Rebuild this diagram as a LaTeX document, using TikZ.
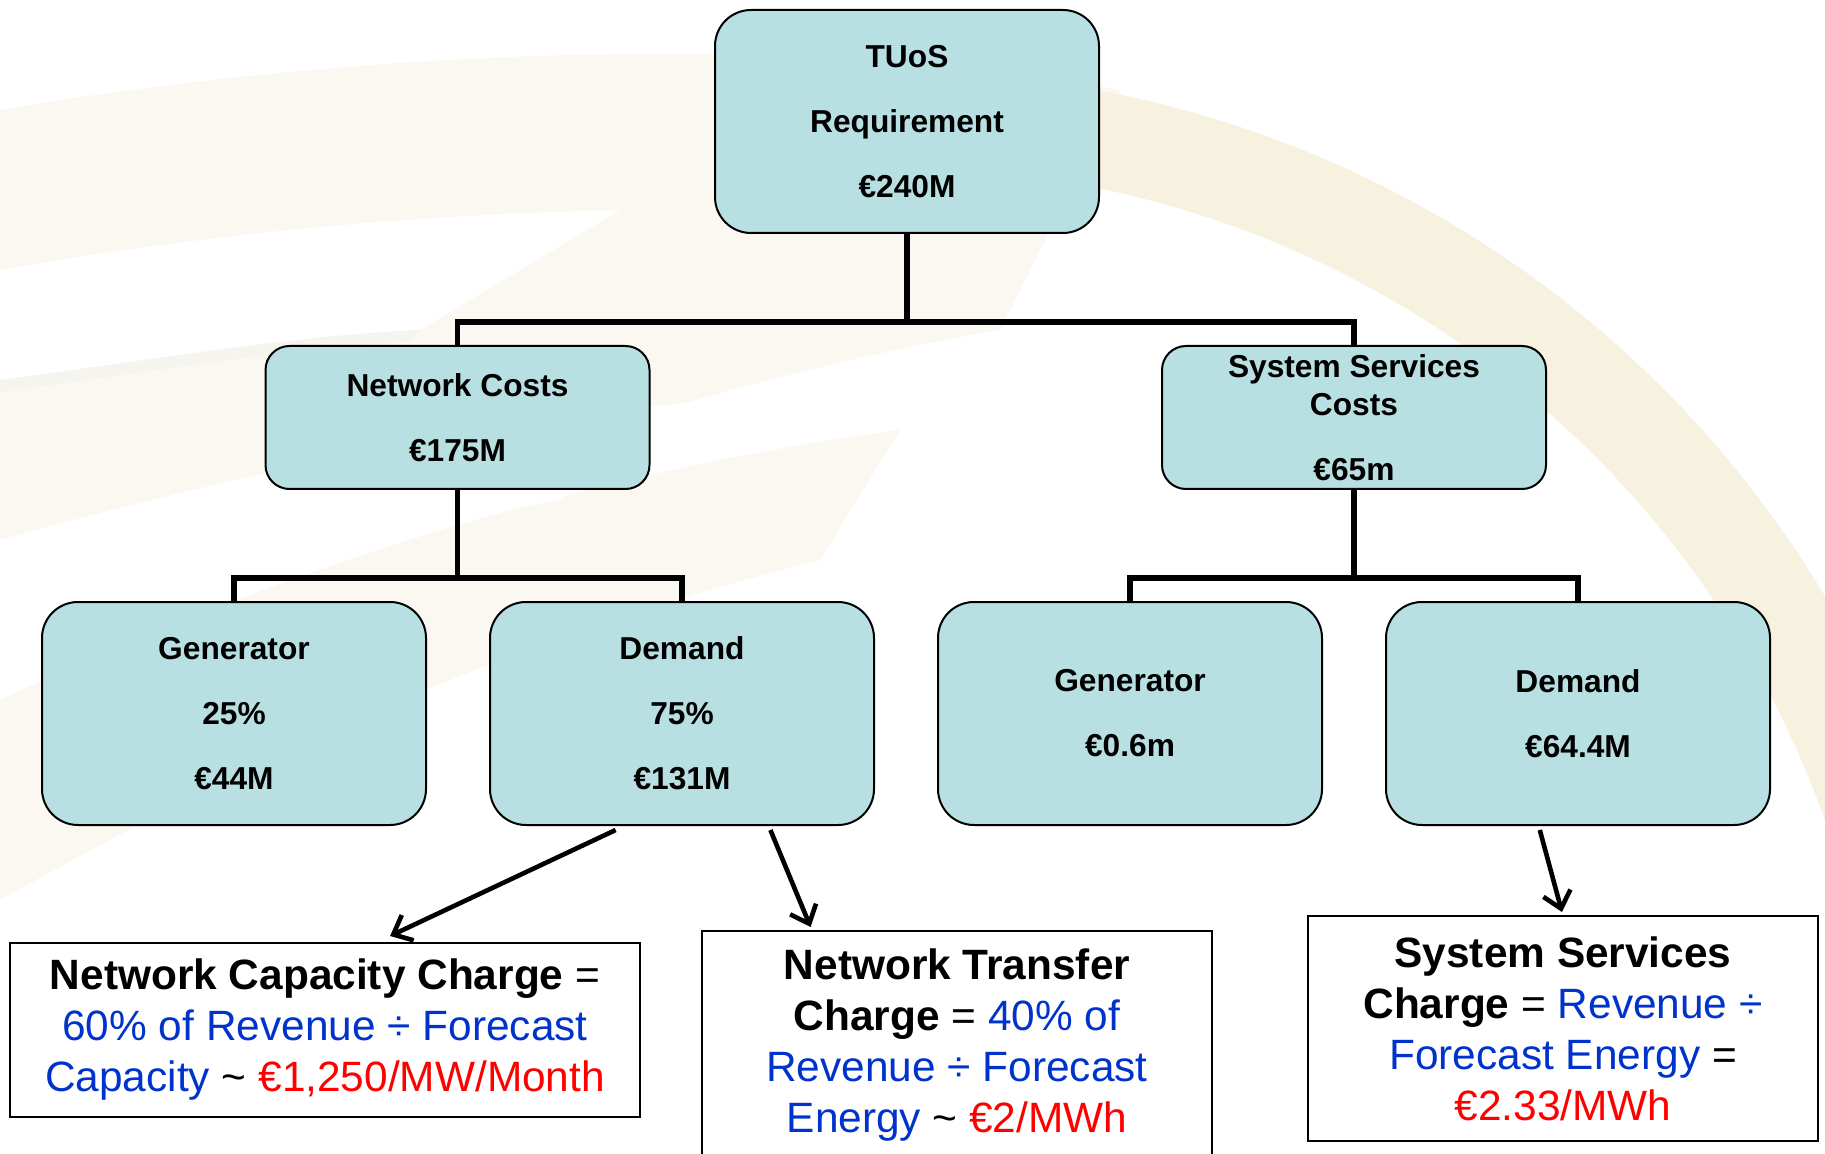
\documentclass[tikz,border=0pt]{standalone}
\usepackage{fontspec}
\setmainfont{Liberation Sans}
\usetikzlibrary{arrows.meta,calc}
\definecolor{boxfill}{RGB}{184,223,226}
\definecolor{tblue}{RGB}{0,51,204}
\definecolor{tred}{RGB}{255,0,0}
\definecolor{cream}{RGB}{251,248,241}
\definecolor{beige}{RGB}{247,241,224}
\definecolor{haze}{RGB}{238,238,238}

\begin{document}
\begin{tikzpicture}[x=0.5pt,y=-0.5pt,
  costbox/.style={draw=black,line width=1pt,fill=boxfill,align=center,inner sep=0pt,
    font=\fontsize{15.85}{32.5}\selectfont\bfseries},
  tallbox/.style={costbox,minimum width=192pt,minimum height=111.5pt,rounded corners=18pt},
  flatbox/.style={costbox,minimum width=192pt,minimum height=71.5pt,rounded corners=12pt},
  chargebox/.style={draw=black,line width=1pt,fill=white,align=center,inner sep=0pt,
    font=\fontsize{21.2}{25.5}\selectfont},
  tree/.style={line width=2.8pt},
  flow/.style={line width=2.3pt,-{Straight Barb[length=8pt,width=14pt]}}]

% page and clipping frame
\useasboundingbox (0,0) rectangle (1825,1154);
\clip (0,0) rectangle (1825,1154);
\fill[white] (0,0) rectangle (1825,1154);

% faint watermark in the background
\fill[cream] (0,110) .. controls (350,50) and (800,30) .. (1120,90)
  -- (1000,330) .. controls (700,380) and (300,520) .. (0,640) -- cycle;
\fill[cream] (0,700) .. controls (300,560) and (600,470) .. (900,430)
  -- (820,560) .. controls (500,640) and (250,760) .. (0,900) -- cycle;
\fill[white] (0,270) .. controls (200,235) and (400,215) .. (620,210)
  -- (420,330) .. controls (300,335) and (150,360) .. (0,380) -- cycle;
\fill[haze,opacity=0.4] (0,380) .. controls (150,360) and (300,335) .. (420,330)
  -- (410,342) .. controls (300,347) and (150,372) .. (0,392) -- cycle;
\fill[white] (0,540) .. controls (250,470) and (500,420) .. (720,400)
  -- (560,500) .. controls (380,530) and (180,590) .. (0,650) -- cycle;
\draw[beige,line width=48pt] (900,1150) ++(-82:1030) arc (-82:20:1030);

% cost boxes
\node[tallbox] (tuos) at (907,121.5) {TUoS\\Requirement\\€240M};
\node[flatbox] (net) at (457.5,417.5) {Network Costs\\€175M};
\node[flatbox] (sys) at (1354,417.5)
  {System Services\\[-13.5pt]Costs\\€65m};
\node[tallbox] (gen1) at (234,713.5) {Generator\\25\%\\€44M};
\node[tallbox] (dem1) at (682,713.5) {Demand\\75\%\\€131M};
\node[tallbox] (gen2) at (1130,713.5) {Generator\\€0.6m};
\node[tallbox] (dem2) at (1578,713.5) {Demand\\€64.4M};

% charge boxes
\node[chargebox,minimum width=315pt,minimum height=87pt] (ncc) at (325,1030)
  {\textbf{Network Capacity Charge} =\\
   \color{tblue}60\% of Revenue ÷ Forecast\\
   \color{tblue}Capacity {\color{black}\textasciitilde} \color{tred}€1,250/MW/Month};
\node[chargebox,minimum width=255pt,minimum height=114pt] (ntc) at (957,1045)
  {\textbf{Network Transfer}\\
   \textbf{Charge} = {\color{tblue}40\% of}\\
   {\color{tblue}Revenue ÷ Forecast}\\
   {\color{tblue}Energy} \textasciitilde{} {\color{tred}€2/MWh}};
\node[chargebox,minimum width=255pt,minimum height=112.5pt] (ssc) at (1563,1028.5)
  {\textbf{System Services}\\
   \textbf{Charge} = {\color{tblue}Revenue ÷}\\
   {\color{tblue}Forecast Energy} =\\
   {\color{tred}€2.33/MWh}};

% tree connectors
\draw[tree] (tuos.south) -- ++(0,88) coordinate (j0);
\draw[tree] (net.north) |- (j0) -| (sys.north);
\draw[tree] (net.south) -- ++(0,88) coordinate (j1);
\draw[tree] (gen1.north) |- (j1) -| (dem1.north);
\draw[tree] (sys.south) -- ++(0,88) coordinate (j2);
\draw[tree] (gen2.north) |- (j2) -| (dem2.north);

% charge arrows
\draw[flow] ($(dem1.south west)!0.328!(dem1.south east)+(0,4)$)
  -- ($(ncc.north west)!0.603!(ncc.north east)+(0,-6)$);
\draw[flow] ($(dem1.south west)!0.729!(dem1.south east)+(0,4)$)
  -- ($(ntc.north west)!0.214!(ntc.north east)+(0,-3)$);
\draw[flow] ($(dem2.south west)!0.401!(dem2.south east)+(0,4)$)
  -- ($(ssc.north west)!0.498!(ssc.north east)+(0,-3)$);
\end{tikzpicture}
\end{document}
